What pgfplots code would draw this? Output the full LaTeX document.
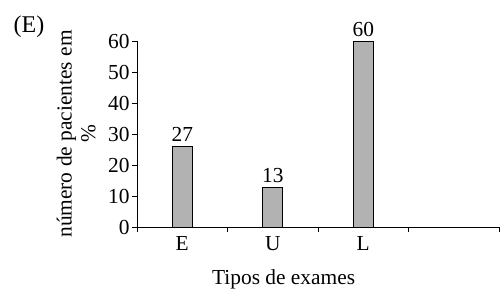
\documentclass[border=0pt]{standalone}
\usepackage{pgfplots}
\pgfplotsset{compat=1.18}
\usepackage{fontspec}
\setmainfont{Liberation Serif}
\begin{document}
\begin{tikzpicture}
\useasboundingbox (-68.5pt,-32pt) rectangle (182pt,113.5pt);
\begin{axis}[
  at={(0,0)}, anchor=south west,
  scale only axis, width=181pt, height=93pt,
  font=\fontsize{10.7}{11.8}\selectfont,
  /pgf/number format/assume math mode=true,
  axis x line*=bottom, axis y line*=left,
  axis line style={-, line width=0.5pt},
  xmin=-0.5, xmax=3.5, ymin=0, ymax=60,
  ytick={0,10,...,60},
  xtick={-0.5,0.5,1.5,2.5,3.5},
  xticklabels={E,U,L,{}},
  x tick label as interval,
  tick align=outside,
  major tick length=2.5pt,
  tick style={line width=0.5pt, black},
  yticklabel style={inner sep=1pt},
  xticklabel style={inner sep=1pt, yshift=-1pt},
  ylabel={número de pacientes em\\\%},
  ylabel style={align=center, at={(axis description cs:-0.168,0.5)}, anchor=center},
  xlabel={Tipos de exames},
  xlabel style={at={(axis description cs:0.405,-0.28)}, anchor=center},
  clip=false,
  ybar, bar width=10pt,
  nodes near coords={\pgfplotspointmeta},
  point meta=explicit symbolic,
  every node near coord/.append style={inner sep=2pt},
]
\addplot[fill=black!30, draw=black, line width=0.5pt] coordinates {(0,26) [27] (1,12.7) [13] (2,60) [60]};
\end{axis}
\node[font=\fontsize{12}{14}\selectfont] at (-54pt,100pt) {(E)};
\end{tikzpicture}
\end{document}
